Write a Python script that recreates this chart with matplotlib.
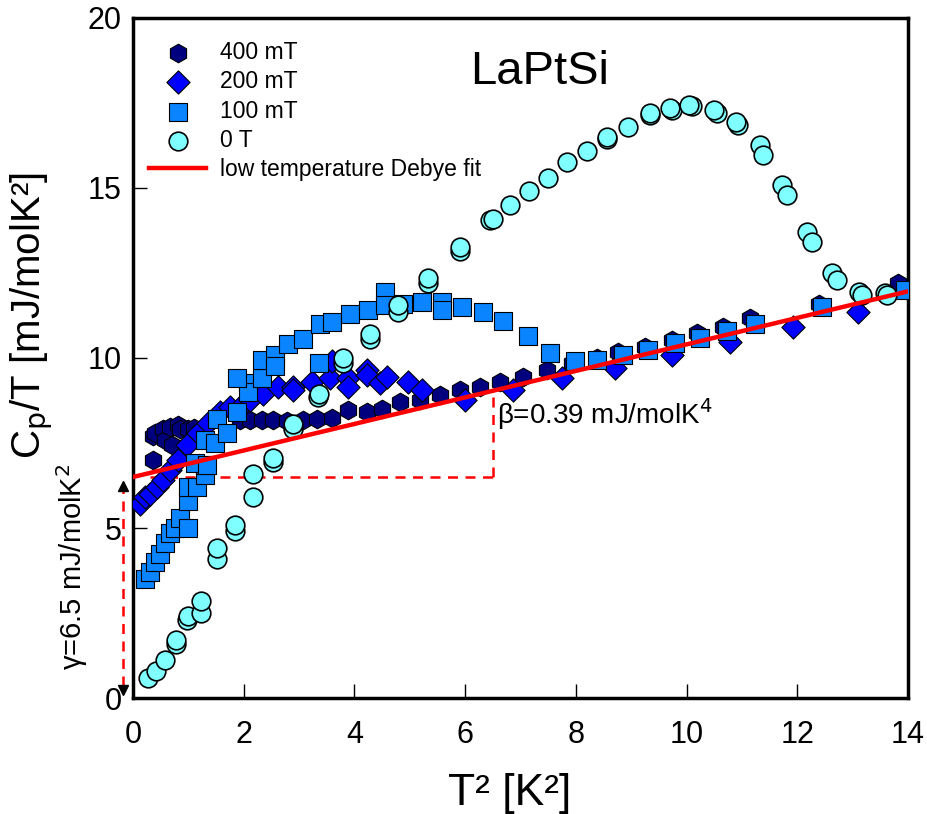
import numpy as np
import matplotlib.pyplot as plt

plt.rcParams['font.family'] = ['Liberation Sans', 'DejaVu Sans']

# 0 T
t2_0T = [0.27, 0.42, 0.58, 0.78, 0.78, 0.98, 1.0, 1.23, 1.23, 1.52, 1.52, 1.84, 1.84,
         2.17, 2.17, 2.53, 2.53, 2.89, 2.89, 3.34, 3.36, 3.8, 3.8, 4.28, 4.28, 4.79, 4.79,
         5.33, 5.33, 5.9, 5.9, 6.45, 6.5, 6.81, 7.15, 7.5, 7.84, 8.2, 8.56, 8.56, 8.94,
         9.34, 9.34, 9.74, 9.7, 10.1, 10.05, 10.55, 10.5, 10.93, 10.9, 11.33, 11.38,
         11.72, 11.81, 12.17, 12.27, 12.62, 12.72, 13.12, 13.17, 13.58, 13.62]
cpt_0T = [0.59, 0.79, 1.12, 1.6, 1.7, 2.3, 2.4, 2.5, 2.85, 4.1, 4.4, 4.9, 5.1,
          5.9, 6.6, 6.95, 7.05, 7.9, 8.05, 8.85, 8.95, 9.85, 10.0, 10.55, 10.7, 11.35, 11.55,
          12.2, 12.35, 13.15, 13.25, 14.05, 14.1, 14.5, 14.9, 15.3, 15.76, 16.1, 16.45, 16.5, 16.8,
          17.15, 17.2, 17.3, 17.35, 17.4, 17.45, 17.2, 17.3, 16.85, 16.95, 16.26, 15.97,
          15.1, 14.8, 13.7, 13.4, 12.5, 12.3, 11.95, 11.85, 11.9, 11.85]

# 100 mT
t2_100 = [0.22, 0.3, 0.4, 0.49, 0.58, 0.67, 0.76, 0.85, 0.99, 0.99, 0.99, 1.15, 1.3, 1.3,
          1.12, 1.33, 1.3, 1.48, 1.52, 1.7, 1.88, 2.08, 2.08, 1.88, 2.33, 2.33, 2.56, 2.56,
          2.8, 3.07, 3.38, 3.36, 3.6, 3.92, 4.24, 4.55, 4.55, 4.88, 5.22, 5.58, 5.58, 5.94,
          6.32, 6.68, 7.14, 7.53, 7.98, 8.38, 8.85, 9.3, 9.79, 10.24, 10.73, 11.24, 12.45, 13.95]
cpt_100 = [3.5, 3.7, 4.0, 4.25, 4.55, 4.85, 5.0, 5.3, 5.0, 5.8, 6.2, 6.2, 6.55, 6.85,
           6.9, 6.85, 7.6, 7.5, 8.2, 7.8, 8.4, 9.25, 9.0, 9.4, 9.4, 9.95, 10.1, 9.75,
           10.4, 10.55, 11.0, 9.85, 11.05, 11.3, 11.4, 11.95, 11.55, 11.6, 11.65, 11.65, 11.4, 11.5,
           11.35, 11.1, 10.65, 10.15, 9.9, 9.95, 10.1, 10.24, 10.43, 10.6, 10.8, 11.0, 11.5, 12.0]

# 200 mT
t2_200 = [0.13, 0.22, 0.31, 0.43, 0.54, 0.67, 0.81, 0.98, 1.17, 1.35, 1.57, 1.75, 1.93,
          2.11, 2.35, 2.62, 2.89, 2.89, 3.23, 3.56, 3.6, 3.88, 3.88, 4.23, 4.23, 4.46, 4.59,
          4.97, 5.22, 6.0, 6.86, 7.75, 8.7, 9.74, 10.78, 11.92, 13.1]
cpt_200 = [5.7, 5.9, 6.0, 6.2, 6.4, 6.7, 7.0, 7.45, 7.8, 8.1, 8.4, 8.55, 8.55,
           8.75, 8.95, 9.15, 9.15, 9.05, 9.3, 9.4, 9.9, 9.4, 9.15, 9.65, 9.5, 9.25, 9.45,
           9.3, 9.05, 8.75, 9.05, 9.4, 9.7, 10.1, 10.47, 10.9, 11.35]

# 400 mT
t2_400 = [0.36, 0.36, 0.4, 0.54, 0.58, 0.67, 0.7, 0.81, 0.85, 0.99, 1.1, 1.93, 2.11,
          2.33, 2.53, 2.78, 3.07, 3.32, 3.6, 3.88, 4.23, 4.5, 4.82, 5.18, 5.55, 5.9,
          6.27, 6.63, 7.04, 7.48, 7.93, 8.38, 8.76, 9.25, 9.74, 10.19, 10.66, 11.15, 12.4, 13.82]
cpt_400 = [7.0, 7.7, 7.8, 7.9, 7.6, 7.97, 7.45, 8.03, 7.9, 7.9, 7.95, 8.18, 8.18,
           8.18, 8.18, 8.15, 8.18, 8.22, 8.24, 8.47, 8.4, 8.5, 8.7, 8.76, 8.9, 9.05,
           9.15, 9.3, 9.45, 9.65, 9.85, 10.0, 10.18, 10.32, 10.53, 10.73, 10.9, 11.17, 11.6, 12.2]

gamma = 6.5
beta = 0.39
fit_t2 = np.array([0, 14])

fig = plt.figure(figsize=(9.28, 8.14), dpi=100)
ax = fig.add_axes([0.1433, 0.1425, 0.8351, 0.8354])

ax.scatter(t2_400, cpt_400, marker='h', s=180, c='#00007f', edgecolors='black', linewidths=0.8,
           label='400 mT', zorder=3)
ax.scatter(t2_200, cpt_200, marker='D', s=140, c='#0000ff', edgecolors='black', linewidths=0.8,
           label='200 mT', zorder=4)
ax.scatter(t2_100, cpt_100, marker='s', s=160, c='#0a84ff', edgecolors='black', linewidths=0.8,
           label='100 mT', zorder=5)
ax.scatter(t2_0T, cpt_0T, marker='o', s=180, c='#7fffff', edgecolors='black', linewidths=1.2,
           label='0 T', zorder=6)
ax.plot(fit_t2, gamma + beta * fit_t2, color='red', lw=3.2, label='low temperature Debye fit', zorder=7)

# construction lines for gamma and beta
ax.plot([0.3, 6.5], [gamma, gamma], color='red', ls=(0, (4, 3)), lw=1.8, zorder=2)
ax.plot([6.5, 6.5], [gamma, gamma + beta * 6.5], color='red', ls=(0, (4, 3)), lw=1.8, zorder=2)
ax.plot([-0.18, -0.18], [0.35, 6.15], color='red', ls=(0, (4, 3)), lw=1.8, clip_on=False)
ax.plot([-0.18], [6.25], marker='^', color='black', ms=7, clip_on=False)
ax.plot([-0.18], [0.25], marker='v', color='black', ms=7, clip_on=False)

ax.text(7.35, 18.4, 'LaPtSi', fontsize=34, ha='center', va='center')
ax.text(6.58, 8.35, r'β=0.39 mJ/molK$^4$', fontsize=20, ha='left', va='center')
ax.text(-1.1, 3.85, r'γ=6.5 mJ/molK$^2$', fontsize=21, rotation=90, ha='center', va='center')

ax.set_xlim(0, 14)
ax.set_ylim(0, 20)
ax.set_xticks([0, 2, 4, 6, 8, 10, 12, 14])
ax.set_yticks([0, 5, 10, 15, 20])
ax.tick_params(direction='in', length=10, width=1, labelsize=22)
ax.tick_params(axis='x', pad=16)
ax.tick_params(axis='y', pad=8)
for sp in ax.spines.values():
    sp.set_linewidth(2.5)

ax.set_xlabel('T² [K²]', fontsize=32)
ax.set_ylabel(r'C$_{\rm p}$/T [mJ/molK²]', fontsize=29)
ax.xaxis.set_label_coords(0.486, -0.11)
ax.yaxis.set_label_coords(-0.1, 0.563)

ax.legend(loc='upper left', bbox_to_anchor=(0.0, 0.99), frameon=False, fontsize=16.5,
          handlelength=2.5, handletextpad=0.6, labelspacing=0.28, borderaxespad=0.3)

fig.savefig('out.png', dpi=100)
